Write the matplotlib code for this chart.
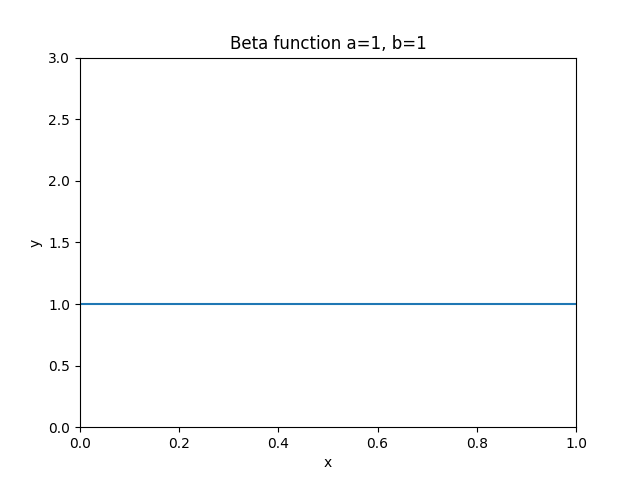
import matplotlib
matplotlib.use("Agg")
import matplotlib.pyplot as plt

# Beta(1, 1) density: flat at 1 across [0, 1]
x_vals = [0.0, 0.25, 0.5, 0.75, 1.0]
y_vals = [1.0, 1.0, 1.0, 1.0, 1.0]

a = 1
b = 1

fig, ax = plt.subplots(figsize=(6.4, 4.8), dpi=100)
ax.plot(x_vals, y_vals)
ax.set_xlim(0, 1)
ax.set_ylim(0, 3)
ax.set_xlabel('x')
ax.set_ylabel('y')
ax.set_title(f'Beta function a={a}, b={b}')

plt.savefig('out.png')
